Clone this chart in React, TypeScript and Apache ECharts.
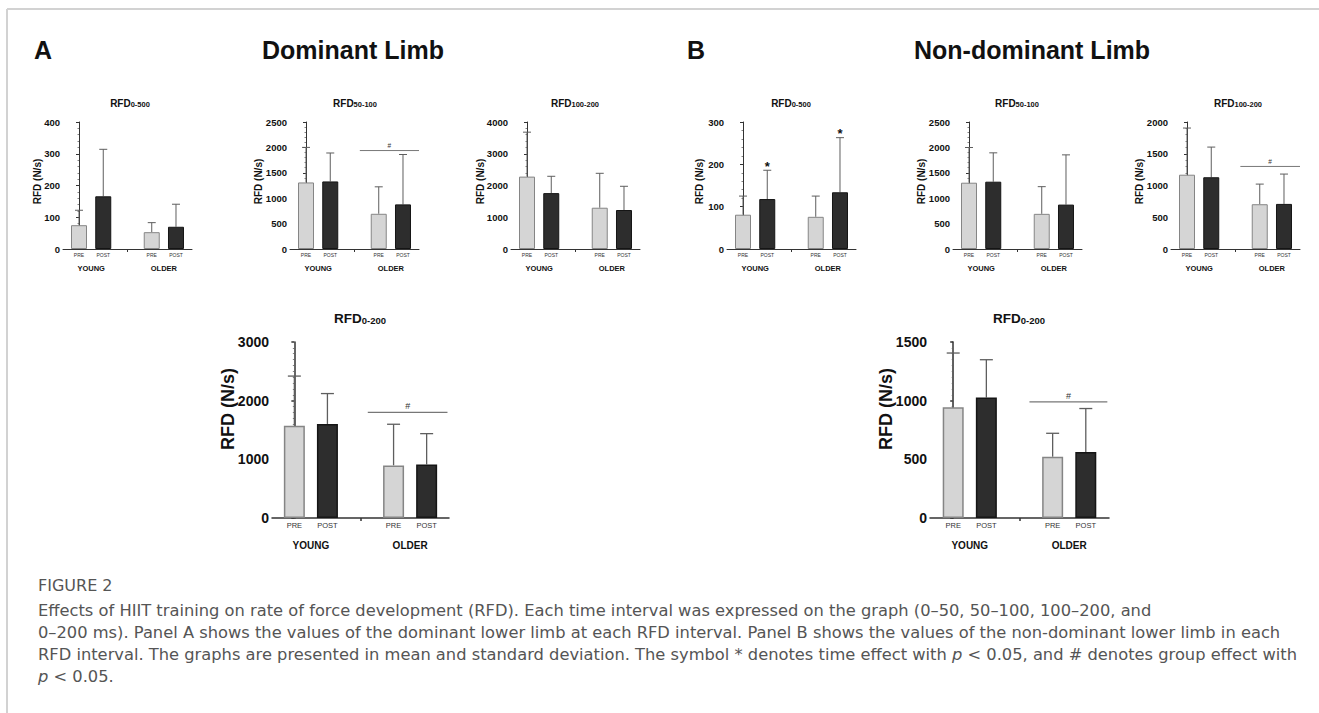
import React, { useEffect, useRef } from 'react';
import * as echarts from 'echarts';

const FONT = '"Liberation Sans", Arial, Helvetica, sans-serif';
const CAP_FONT = '"DejaVu Sans", "Open Sans", sans-serif';

// ---------- data ----------
const groups = ['YOUNG', 'OLDER'];
const times = ['PRE', 'POST'];
const yName = 'RFD (N/s)';
// order in every array: YOUNG-PRE, YOUNG-POST, OLDER-PRE, OLDER-POST

// Panel A: dominant limb
const domRfd0_50Mean = [75, 166, 53, 70];
const domRfd0_50Sd = [47, 148, 30, 71];
const domRfd50_100Mean = [1310, 1330, 693, 878];
const domRfd50_100Sd = [690, 560, 531, 982];
const domRfd100_200Mean = [2280, 1760, 1300, 1228];
const domRfd100_200Sd = [1400, 530, 1084, 747];
const domRfd0_200Mean = [1574, 1603, 897, 914];
const domRfd0_200Sd = [845, 518, 701, 524];

// Panel B: non-dominant limb
const nonRfd0_50Mean = [81, 118, 76, 134];
const nonRfd0_50Sd = [44, 68, 49, 129];
const nonRfd50_100Mean = [1305, 1325, 692, 874];
const nonRfd50_100Sd = [693, 568, 535, 979];
const nonRfd100_200Mean = [1170, 1130, 705, 710];
const nonRfd100_200Sd = [735, 475, 317, 470];
const nonRfd0_200Mean = [944, 1027, 522, 562];
const nonRfd0_200Sd = [462, 322, 200, 371];

// y-axis ranges
const yMaxList = [400, 2500, 4000, 300, 2500, 2000, 3000, 1500];
const yIntervalList = [100, 500, 1000, 100, 500, 500, 1000, 500];

// annotations: group effect (#) bracket heights, time effect (*) bars
const domRfd50_100Group = 1938;
const nonRfd100_200Group = 1300;
const domRfd0_200Group = 1800;
const nonRfd0_200Group = 990;
const nonRfd0_50TimeStars = [1, 3];

const captionTitle = 'FIGURE 2';
const captionLines = [
  'Effects of HIIT training on rate of force development (RFD). Each time interval was expressed on the graph (0–50, 50–100, 100–200, and',
  '0–200 ms). Panel A shows the values of the dominant lower limb at each RFD interval. Panel B shows the values of the non-dominant lower limb in each',
  'RFD interval. The graphs are presented in mean and standard deviation. The symbol * denotes time effect with {i|p} < 0.05, and # denotes group effect with',
  '{i|p} < 0.05.',
];

// ---------- layout / style ----------
const SMALL = { barWidth: 16, cap: 8, tick: 9.5, name: 10, time: 5, group: 7.5, timeMargin: 3, groupMargin: 15, axisW: 1, errW: 1, title: 10, sub: 7.5, sig: 6.5, star: 13, minorSplit: 5 };
const LARGE = { barWidth: 21, cap: 13, tick: 14, name: 18, time: 7.5, group: 10, timeMargin: 3.5, groupMargin: 22, axisW: 1.5, errW: 1.3, title: 13.5, sub: 9.5, sig: 9, star: 16, minorSplit: 10 };

const panels: any[] = [
  { sub: '0-500', mean: domRfd0_50Mean, sd: domRfd0_50Sd, left: 63, top: 122, width: 129, height: 127, pad: 0.66, s: SMALL, titleX: 130, titleY: 103, nameGap: 21, nameShift: 8 },
  { sub: '50-100', mean: domRfd50_100Mean, sd: domRfd50_100Sd, left: 290, top: 122, width: 129, height: 127, pad: 0.66, s: SMALL, titleX: 355, titleY: 103, nameGap: 27, nameShift: 8, sig: { from: 2.22, to: 4.66, value: domRfd50_100Group } },
  { sub: '100-200', mean: domRfd100_200Mean, sd: domRfd100_200Sd, left: 511, top: 122, width: 129, height: 127, pad: 0.66, s: SMALL, titleX: 575, titleY: 103, nameGap: 26, nameShift: 8 },
  { sub: '0-500', mean: nonRfd0_50Mean, sd: nonRfd0_50Sd, left: 727, top: 122, width: 129, height: 127, pad: 0.66, s: SMALL, titleX: 791, titleY: 103, nameGap: 23, nameShift: 8, stars: nonRfd0_50TimeStars },
  { sub: '50-100', mean: nonRfd50_100Mean, sd: nonRfd50_100Sd, left: 953, top: 122, width: 129, height: 127, pad: 0.66, s: SMALL, titleX: 1017, titleY: 103, nameGap: 27, nameShift: 8 },
  { sub: '100-200', mean: nonRfd100_200Mean, sd: nonRfd100_200Sd, left: 1171, top: 122, width: 129, height: 127, pad: 0.66, s: SMALL, titleX: 1238, titleY: 103, nameGap: 27, nameShift: 8, sig: { from: 2.2, to: 4.66, value: nonRfd100_200Group } },
  { sub: '0-200', mean: domRfd0_200Mean, sd: domRfd0_200Sd, left: 272, top: 342, width: 177, height: 176, pad: 0.676, s: LARGE, titleX: 360, titleY: 318, nameGap: 35, nameShift: 42, sig: { from: 2.22, to: 4.63, value: domRfd0_200Group } },
  { sub: '0-200', mean: nonRfd0_200Mean, sd: nonRfd0_200Sd, left: 930, top: 342, width: 179, height: 176, pad: 0.7, s: LARGE, titleX: 1019, titleY: 318, nameGap: 35, nameShift: 42, sig: { from: 2.3, to: 4.65, value: nonRfd0_200Group } },
];

const PRE_FILL = '#d5d5d5';
const PRE_BORDER = '#858585';
const POST_FILL = '#2d2d2d';
const POST_BORDER = '#151515';
const AXIS = '#333';
const ERR = '#5e5e5e';

const slot = (i: number) => Math.floor(i / 2) * 3 + (i % 2);

function buildOption() {
  const grid: any[] = [];
  const xAxis: any[] = [];
  const yAxis: any[] = [];
  const series: any[] = [];
  const graphic: any[] = [];

  panels.forEach((p, k) => {
    const s = p.s;
    const min = -p.pad;
    const max = 4 + p.pad;
    grid.push({ left: p.left, top: p.top, width: p.width, height: p.height });
    // time (PRE/POST) axis
    xAxis.push({
      gridIndex: k, type: 'value', min, max, position: 'bottom',
      axisLine: { show: true, onZero: false, lineStyle: { color: AXIS, width: s.axisW } },
      axisTick: { show: true, customValues: [2], length: 3, lineStyle: { color: AXIS, width: s.axisW } },
      splitLine: { show: false },
      axisLabel: {
        customValues: [0, 1, 3, 4],
        formatter: (v: number) => times[Math.round(v) % 3],
        fontSize: s.time, fontFamily: FONT, color: '#333', margin: s.timeMargin,
      },
    });
    // group axis
    xAxis.push({
      gridIndex: k, type: 'value', min, max, position: 'bottom',
      axisLine: { show: false }, axisTick: { show: false }, splitLine: { show: false },
      axisLabel: {
        customValues: [0.5, 3.5],
        formatter: (v: number) => groups[Math.floor(v / 3)],
        fontSize: s.group, fontWeight: 'bold', fontFamily: FONT, color: '#111', margin: s.groupMargin,
      },
    });
    yAxis.push({
      gridIndex: k, type: 'value', min: 0, max: yMaxList[k], interval: yIntervalList[k],
      axisLine: { show: true, lineStyle: { color: AXIS, width: s.axisW } },
      axisTick: { show: true, length: 3, lineStyle: { color: AXIS, width: s.axisW } },
      minorTick: { show: true, splitNumber: s.minorSplit, length: 1.5, lineStyle: { color: '#666', width: 0.8 } },
      splitLine: { show: false },
      axisLabel: { fontSize: s.tick, fontWeight: 'bold', fontFamily: FONT, color: '#111', margin: 3, formatter: (v: number) => String(v) },
      name: yName, nameLocation: 'middle', nameGap: p.nameGap, nameMoveOverlap: false,
      nameTextStyle: { fontSize: s.name, fontWeight: 'bold', fontFamily: FONT, color: '#111', padding: [0, 0, 0, p.nameShift] },
    });

    const xi = k * 2;
    series.push({
      type: 'bar', xAxisIndex: xi, yAxisIndex: k, barWidth: s.barWidth,
      data: p.mean.map((m: number, i: number) => ({
        value: [slot(i), m],
        itemStyle: i % 2 === 0
          ? { color: PRE_FILL, borderColor: PRE_BORDER, borderWidth: s.axisW }
          : { color: POST_FILL, borderColor: POST_BORDER, borderWidth: s.axisW },
      })),
    });
    series.push({
      type: 'custom', xAxisIndex: xi, yAxisIndex: k, clip: false,
      encode: { x: 0, y: [1, 2] },
      data: p.mean.map((m: number, i: number) => [slot(i), m, m + p.sd[i]]),
      renderItem: (params: any, api: any) => {
        const x = api.value(0);
        const p0 = api.coord([x, api.value(1)]);
        const p1 = api.coord([x, api.value(2)]);
        const st = { stroke: ERR, lineWidth: s.errW };
        return {
          type: 'group',
          children: [
            { type: 'line', shape: { x1: p0[0], y1: p0[1], x2: p1[0], y2: p1[1] }, style: st },
            { type: 'line', shape: { x1: p1[0] - s.cap / 2, y1: p1[1], x2: p1[0] + s.cap / 2, y2: p1[1] }, style: st },
          ],
        };
      },
    });
    if (p.sig) {
      series.push({
        type: 'custom', xAxisIndex: xi, yAxisIndex: k, clip: false,
        encode: { x: [0, 1], y: 2 },
        data: [[p.sig.from, p.sig.to, p.sig.value]],
        renderItem: (params: any, api: any) => {
          const a = api.coord([api.value(0), api.value(2)]);
          const b = api.coord([api.value(1), api.value(2)]);
          return {
            type: 'group',
            children: [
              { type: 'line', shape: { x1: a[0], y1: a[1], x2: b[0], y2: b[1] }, style: { stroke: '#777', lineWidth: s.errW } },
              { type: 'text', x: (a[0] + b[0]) / 2, y: a[1] - 1.5, style: { text: '#', fontSize: s.sig, fontFamily: FONT, fill: '#333', align: 'center', verticalAlign: 'bottom' } },
            ],
          };
        },
      });
    }
    if (p.stars) {
      series.push({
        type: 'custom', xAxisIndex: xi, yAxisIndex: k, clip: false,
        encode: { x: 0, y: 1 },
        data: p.stars.map((i: number) => [slot(i), p.mean[i] + p.sd[i]]),
        renderItem: (params: any, api: any) => {
          const c = api.coord([api.value(0), api.value(1)]);
          return { type: 'text', x: c[0], y: c[1] - 4, style: { text: '*', fontSize: s.star, fontWeight: 'bold', fontFamily: FONT, fill: '#111', align: 'center', verticalAlign: 'middle' } };
        },
      });
    }

    graphic.push({
      type: 'text', x: p.titleX, y: p.titleY,
      style: {
        text: `{a|RFD}{b|${p.sub}}`,
        align: 'center', verticalAlign: 'middle',
        rich: {
          a: { fontSize: s.title, fontWeight: 'bold', fontFamily: FONT, fill: '#111', verticalAlign: 'bottom' },
          b: { fontSize: s.sub, fontWeight: 'bold', fontFamily: FONT, fill: '#111', verticalAlign: 'bottom' },
        },
      },
    });
  });

  // frame lines
  graphic.push({ type: 'line', shape: { x1: 7, y1: 9, x2: 1319, y2: 9 }, style: { stroke: '#d2d2d2', lineWidth: 2 } });
  graphic.push({ type: 'line', shape: { x1: 7, y1: 9, x2: 7, y2: 713 }, style: { stroke: '#d2d2d2', lineWidth: 2 } });

  const header = (text: string, x: number) => ({
    type: 'text', x, y: 50,
    style: { text, fontSize: 25, fontWeight: 'bold', fontFamily: FONT, fill: '#111', align: 'left', verticalAlign: 'middle' },
  });
  graphic.push(header('A', 34), header('Dominant Limb', 262), header('B', 687), header('Non-dominant Limb', 914));

  graphic.push({
    type: 'text', x: 38, y: 585,
    style: { text: captionTitle, fontSize: 16, fontFamily: CAP_FONT, fill: '#555', align: 'left', verticalAlign: 'middle' },
  });
  captionLines.forEach((line, i) => {
    graphic.push({
      type: 'text', x: 38, y: 610 + i * 22,
      style: {
        text: line, fontSize: 16.3, fontFamily: CAP_FONT, fill: '#555', align: 'left', verticalAlign: 'middle',
        rich: { i: { fontSize: 16.3, fontFamily: CAP_FONT, fontStyle: 'italic', fill: '#555' } },
      },
    });
  });

  return { animation: false, backgroundColor: '#fff', grid, xAxis, yAxis, series, graphic };
}

export default function App() {
  const ref = useRef<HTMLDivElement>(null);
  useEffect(() => {
    if (!ref.current) return;
    const chart = echarts.init(ref.current, undefined, { renderer: 'svg' });
    chart.setOption(buildOption() as any);
    return () => chart.dispose();
  }, []);
  return <div ref={ref} style={{ position: 'fixed', left: 0, top: 0, width: 1319, height: 713, background: '#fff' }} />;
}
